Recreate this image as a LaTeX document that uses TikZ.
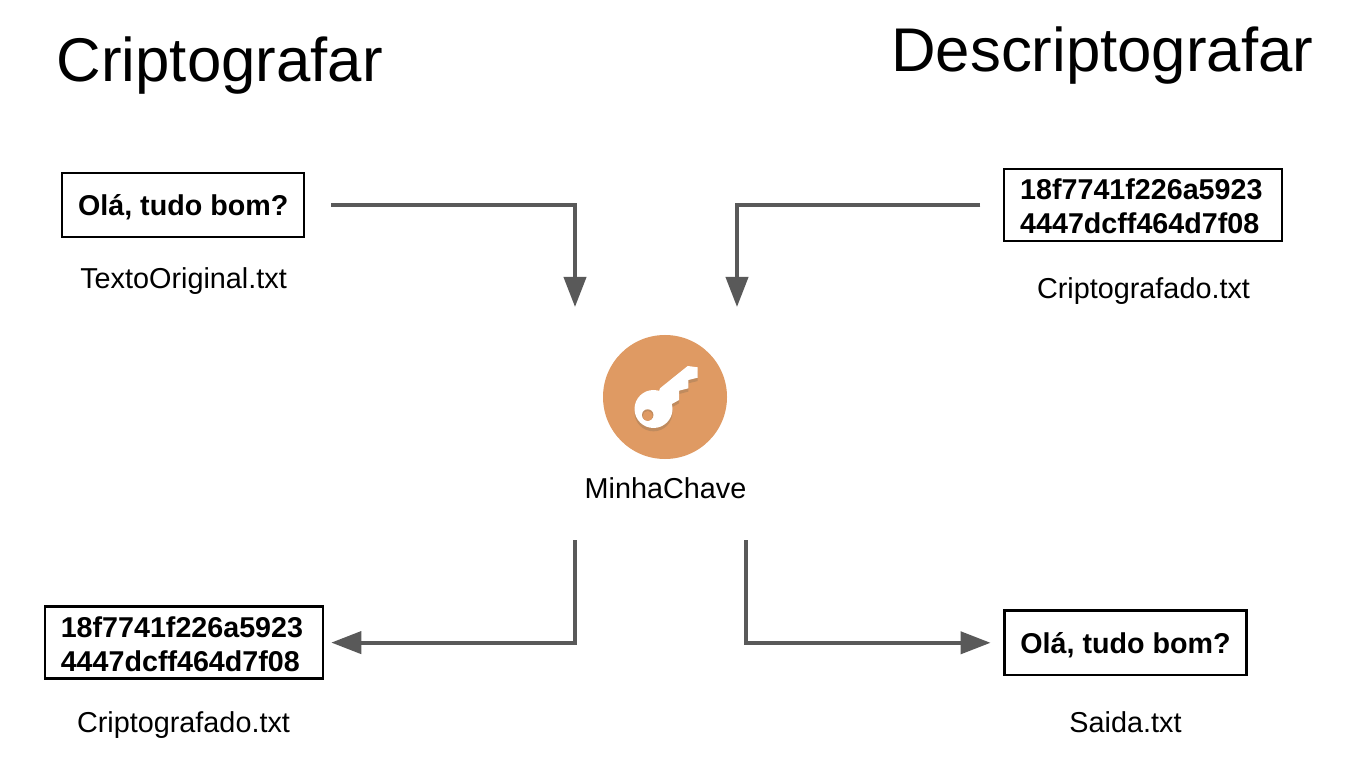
\documentclass[tikz,border=0pt]{standalone}
\usepackage{fontspec}
\setmainfont{Liberation Sans}
\usetikzlibrary{arrows.meta}
\definecolor{arrowgray}{HTML}{595959}
\definecolor{keyorange}{HTML}{DF9A63}
\definecolor{keyshadow}{HTML}{C08B5E}
\tikzset{
  title/.style={anchor=base west,inner sep=0pt,font=\fontsize{46.3}{46}\selectfont},
  textbox/.style={draw,line width=1.7pt,inner sep=0pt,font=\fontsize{21.5}{25.5}\selectfont\bfseries},
  shortbox/.style={textbox,minimum width=181.5pt,minimum height=48.5pt,text height=18.7pt,text depth=3.2pt},
  longbox/.style={textbox,minimum width=208.5pt,minimum height=54pt,text width=184.5pt,align=left,text height=17.5pt},
  filename/.style={anchor=base,inner sep=0pt,font=\fontsize{21.6}{26}\selectfont},
  flow/.style={draw=arrowgray,line width=3pt,-{Triangle[length=22.5pt,width=16.5pt,fill=arrowgray]}}
}
\newcommand{\keypath}{(660,388.3)--(687.7,366)--(697.7,367.3)--(697.7,377.7)--(688.3,380)--(688.3,388.3)--(679,390.7)--(679,400)--(670,405)--(653.5,409)--cycle (653.5,409) circle[radius=19]}
\begin{document}
\begin{tikzpicture}[x=0.75pt,y=-0.75pt]
            \useasboundingbox (0,0) rectangle (1360,766);
            \fill[white] (0,0) rectangle (1360,766);
            % titles
            \node[title] (enc) at (56.5,82) {Criptografar};
            \node[title] (dec) at (891,71.5) {Descriptografar};
            % boxes
            \node[shortbox] (orig) at (183.2,205) {Olá, tudo bom?};
            \node[longbox] (cryptin) at (1143.2,204.8) {18f7741f226a5923\\4447dcff464d7f08};
            \node[longbox] (cryptout) at (183.8,642.6) {18f7741f226a5923\\4447dcff464d7f08};
            \node[shortbox] (saida) at (1125.5,642.8) {Olá, tudo bom?};
            % file names
            \node[filename] (origname) at (183.5,289) {TextoOriginal.txt};
            \node[filename] (cryptinname) at (1143.5,299) {Criptografado.txt};
            \node[filename] (cryptoutname) at (183.5,732.5) {Criptografado.txt};
            \node[filename] (saidaname) at (1125.5,732.5) {Saida.txt};
            \node[filename] (keyname) at (665.5,498) {MinhaChave};
            % key
            \node[circle,fill=keyorange,minimum size=93pt,inner sep=0pt] (keycircle) at (665,397) {};
            \fill[keyshadow,yshift=-2.5pt] \keypath;
            \fill[white] \keypath;
            \fill[keyshadow] (647.7,415) circle[radius=5.7];
            \fill[keyorange] (647.7,416) circle[radius=5];
            % arrows
            \coordinate (a) at (575,307);
            \coordinate (b) at (737,307);
            \coordinate (c) at (575,540);
            \coordinate (d) at (746,540);
            \draw[flow,shorten <=19.5pt] (orig.east)-|(a);
            \draw[flow,shorten <=17.1pt] (cryptin.west)-|(b);
            \draw[flow,shorten >=5.5pt] (c)|-(cryptout.east);
            \draw[flow,shorten >=9.6pt] (d)|-(saida.west);
        \end{tikzpicture}
\end{document}
